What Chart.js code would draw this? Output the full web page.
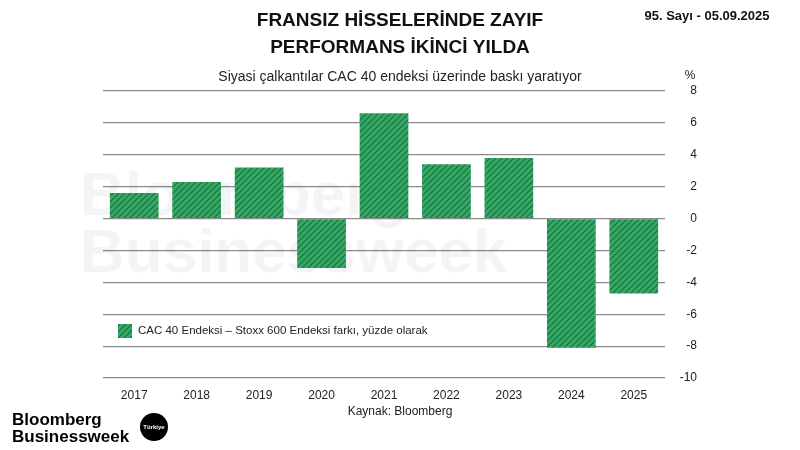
<!DOCTYPE html>
<html><head><meta charset="utf-8">
<script src="https://cdn.jsdelivr.net/npm/chart.js@4"></script>
<style>html,body{margin:0;padding:0;background:#fff}#w{width:800px;height:450px}</style>
</head><body><div id="w"><canvas id="c"></canvas></div>
<script>
const years = ['2017','2018','2019','2020','2021','2022','2023','2024','2025'];
const diffValues = [1.6, 2.3, 3.2, -3.1, 6.6, 3.4, 3.8, -8.1, -4.7];
const legendLabel = 'CAC 40 Endeksi – Stoxx 600 Endeksi farkı, yüzde olarak';

function hatch(){
  const p=document.createElement('canvas');p.width=6;p.height=6;
  const g=p.getContext('2d');
  g.fillStyle='#34a865';g.fillRect(0,0,6,6);
  g.strokeStyle='#1e6e40';g.lineWidth=1.2;
  g.beginPath();
  for(let k=-6;k<=12;k+=6){g.moveTo(k,6);g.lineTo(k+6,0);}
  g.stroke();
  return g.createPattern(p,'repeat');
}
const pat=hatch();

const deco={id:'deco',
 beforeDatasetsDraw(ch){
  const c=ch.ctx;c.save();
  c.fillStyle='rgba(0,0,0,0.045)';c.font='bold 62px "Liberation Sans", Arial';
  c.textAlign='left';c.textBaseline='alphabetic';
  c.fillText('Bloomberg',80,215);c.fillText('Businessweek',80,272);
  c.restore();
 },
 afterDraw(ch){
  const c=ch.ctx;c.save();
  c.fillStyle='#111';c.textAlign='center';c.textBaseline='middle';
  c.font='bold 19px "Liberation Sans", Arial';
  c.fillText('FRANSIZ HİSSELERİNDE ZAYIF',400,21);
  c.fillText('PERFORMANS İKİNCİ YILDA',400,48);
  c.font='14px "Liberation Sans", Arial';c.fillStyle='#222';
  c.fillText('Siyasi çalkantılar CAC 40 endeksi üzerinde baskı yaratıyor',400,77);
  c.font='bold 13px "Liberation Sans", Arial';c.fillStyle='#111';
  c.fillText('95. Sayı - 05.09.2025',707,16);
  c.font='12px "Liberation Sans", Arial';c.fillStyle='#222';
  c.fillText('%',690,76);
  c.fillText('Kaynak: Bloomberg',400,412);
  c.fillStyle=pat;c.fillRect(118,324,14,14);
  c.textAlign='left';c.fillStyle='#222';c.font='11.5px "Liberation Sans", Arial';
  c.fillText(legendLabel,138,331);
  c.fillStyle='#000';c.font='bold 17px "Liberation Sans", Arial';
  c.fillText('Bloomberg',12,420);c.fillText('Businessweek',12,437);
  c.beginPath();c.arc(154,427,14,0,Math.PI*2);c.fill();
  c.fillStyle='#fff';c.font='bold 6px "Liberation Sans", Arial';c.textAlign='center';
  c.fillText('Türkiye',154,427);
  c.restore();
 }};

new Chart(document.getElementById('c'),{
 type:'bar',
 data:{labels:years,datasets:[{label:legendLabel,data:diffValues,backgroundColor:pat,borderWidth:0,categoryPercentage:0.78,barPercentage:1}]},
 options:{responsive:true,maintainAspectRatio:false,animation:false,
  layout:{padding:{left:103,right:103,top:91,bottom:46}},
  plugins:{legend:{display:false},tooltip:{enabled:false}},
  scales:{
   x:{grid:{display:false},border:{display:false},
      ticks:{color:'#222',font:{size:12,family:'"Liberation Sans", Arial'},padding:2},
      afterFit(s){s.height=26;}},
   y:{position:'right',min:-10,max:8,
      ticks:{stepSize:2,color:'#222',font:{size:12,family:'"Liberation Sans", Arial'},crossAlign:'far',padding:0},
      grid:{color:'#8a8a8a',lineWidth:1.2,drawTicks:false},border:{display:false},
      afterFit(s){s.width=32;}}
  }},
 plugins:[deco]
});
</script></body></html>
